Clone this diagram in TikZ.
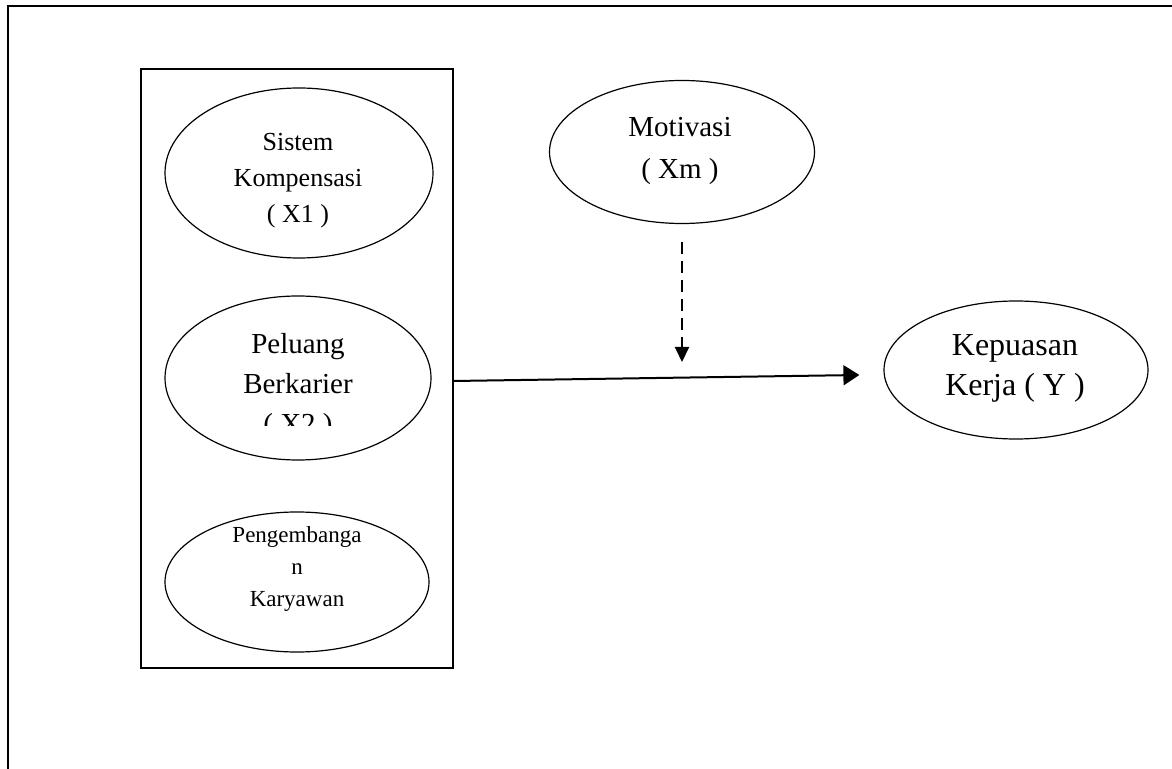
\documentclass[tikz,border=0pt]{standalone}
\usepackage{fontspec}
\setmainfont{Liberation Serif}
\usetikzlibrary{arrows.meta,shapes.geometric}
\begin{document}
\begin{tikzpicture}[x=0.5pt,y=-0.5pt,
  oval/.style={draw,ellipse,line width=0.6pt,inner sep=0pt},
  lbl/.style={align=center,inner sep=0pt},
  framebox/.style={draw,line width=0.6pt,inner sep=0pt},
  mainarrow/.style={line width=1pt,-{Triangle[length=8pt,width=10pt]}},
  modarrow/.style={line width=1pt,dash pattern=on 6pt off 3.5pt,-{Triangle[length=7.5pt,width=7pt]}}]
\useasboundingbox (0,0) rectangle (1172,769);
% outer frame (cropped page border)
\draw[line width=0.9pt] (8,769) -- (8,6) -- (1172,6);
% group box
\node[framebox,minimum width=156pt,minimum height=299.5pt] (box) at (297,368.5) {};
% ellipses
\node[oval,minimum width=134pt,minimum height=85pt] (sis) at (299,173) {};
\node[oval,minimum width=133pt,minimum height=82pt] (pel) at (298,378) {};
\node[oval,minimum width=132pt,minimum height=70pt] (pen) at (297,582) {};
\node[oval,minimum width=132.5pt,minimum height=71.5pt] (mot) at (682,152) {};
\node[oval,minimum width=132pt,minimum height=69pt] (kep) at (1016,370) {};
% labels
\node[lbl,font=\fontsize{13}{18}\selectfont] (sist) at (298,181) {Sistem\\Kompensasi\\( X1 )};
\begin{scope}
\clip (150,300) rectangle (450,426);
\node[lbl,font=\fontsize{14.5}{20}\selectfont] (pelt) at (298,387) {Peluang\\Berkarier\\( X2 )};
\end{scope}
\node[lbl,font=\fontsize{11.5}{16}\selectfont] (pent) at (297,569) {Pengembanga\\n\\Karyawan};
\node[lbl,font=\fontsize{14.5}{21}\selectfont] (mott) at (680,151) {Motivasi\\( Xm )};
\node[lbl,font=\fontsize{16}{20}\selectfont] (kept) at (1015,368) {Kepuasan\\Kerja ( Y )};
% connectors
\coordinate (mod) at (682,362);
\draw[mainarrow] ([yshift=-6.25pt]box.east) -- ([xshift=-12pt,yshift=-2.5pt]kep.west);
\draw[modarrow,shorten <=9pt] (mot.south) -- (mod);
\end{tikzpicture}
\end{document}
